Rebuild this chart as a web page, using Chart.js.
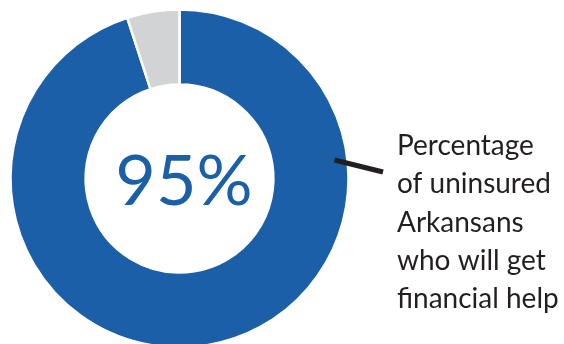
<!DOCTYPE html>
<html>
<head>
<meta charset="utf-8">
<script src="https://cdn.jsdelivr.net/npm/chart.js@4"></script>
<style>
html,body{margin:0;padding:0;background:#fff;overflow:hidden;width:564px;height:344px;}
#wrap{position:absolute;left:0;top:0;width:564px;height:357px;}
</style>
</head>
<body>
<div id="wrap"><canvas id="c" width="564" height="357"></canvas></div>
<script>
const categories = ['Will get financial help', 'Will not'];
const values = [95, 5];
const colors = ['#1b5fa8', '#d1d3d4'];
const centerLabel = '95%';
const labelLines = ['Percentage', 'of uninsured', 'Arkansans', 'who will get', 'financial help'];

const textPlugin = {
  id: 'texts',
  afterDraw(chart) {
    const ctx = chart.ctx;
    const arc = chart.getDatasetMeta(0).data[0];
    const cx = arc.x, cy = arc.y;
    ctx.save();
    ctx.fillStyle = colors[0];
    ctx.font = '400 70px Lato';
    ctx.textAlign = 'center';
    ctx.textBaseline = 'alphabetic';
    ctx.fillText(centerLabel, cx + 4.5, cy + 26.5);
    ctx.strokeStyle = '#231f20';
    ctx.lineWidth = 5;
    ctx.beginPath();
    ctx.moveTo(cx + 155, cy - 18.5);
    ctx.lineTo(cx + 203.5, cy - 6.5);
    ctx.stroke();
    ctx.fillStyle = '#231f20';
    ctx.font = '400 28px Lato';
    ctx.textAlign = 'left';
    labelLines.forEach((t, i) => {
      ctx.fillText(t, cx + 217.5, 155 + i * 38.3);
    });
    ctx.restore();
  }
};

new Chart(document.getElementById('c'), {
  type: 'doughnut',
  data: {
    labels: categories,
    datasets: [{
      data: values,
      backgroundColor: colors,
      borderColor: '#ffffff',
      borderWidth: 2.5,
      hoverOffset: 0
    }]
  },
  options: {
    responsive: false,
    animation: false,
    radius: 169,
    cutout: 98.5,
    rotation: 0,
    layout: { padding: { left: 0, right: 205, top: 0, bottom: 0 } },
    plugins: { legend: { display: false }, tooltip: { enabled: false } },
    events: []
  },
  plugins: [textPlugin]
});
</script>
</body>
</html>
